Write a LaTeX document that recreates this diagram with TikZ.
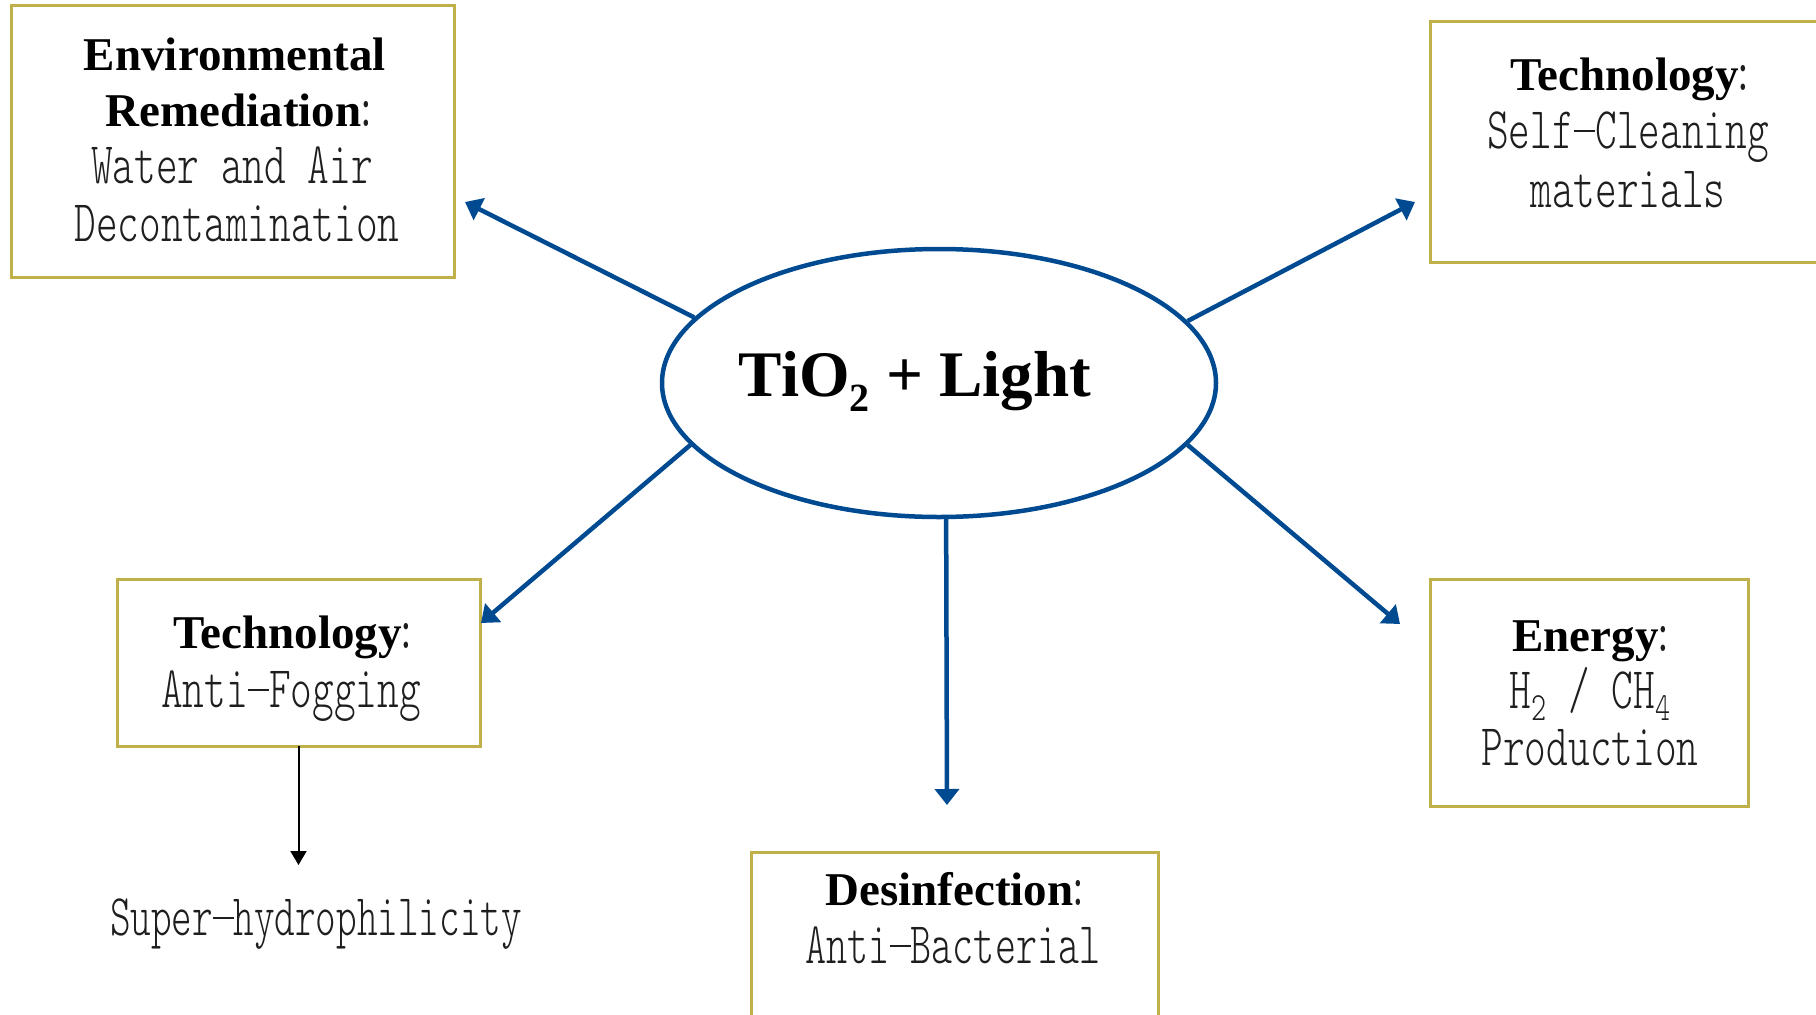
\documentclass[tikz,border=0pt]{standalone}
\usepackage{fontspec}
\setmainfont{Liberation Serif}
\newfontfamily\lmlight{lmmonolt10-regular.otf}
\usepackage{graphicx}
\usetikzlibrary{shapes.geometric,arrows.meta}
\definecolor{gold}{RGB}{191,176,74}
\definecolor{tblue}{RGB}{0,74,145}
\definecolor{mgray}{RGB}{30,30,30}
\newcommand\mt[2][0.70]{\scalebox{#1}[1]{\color{mgray}\lmlight\fontsize{59}{59}\selectfont #2}}
\newcommand\bt[1]{{\bfseries\fontsize{47}{47}\selectfont #1}}
\newcommand\msub[1]{\raisebox{-12pt}{\scalebox{0.72}[1]{\color{mgray}\lmlight\fontsize{40}{40}\selectfont #1}}}
\newcommand\dsh{\rule[0.27em]{0.52em}{0.035em}}
\newcommand\cln{\hspace{2pt}\mt{\makebox[0.12em]{:}}}
\begin{document}
\begin{tikzpicture}[x=1pt,y=-1pt,
  box/.style={draw=gold,line width=3pt,inner sep=0pt,outer sep=0pt},
  txt/.style={inner sep=0pt,outer sep=0pt,anchor=base},
  conn/.style={draw=tblue,line width=4.5pt,-{Triangle[length=16pt,width=24pt]}},
  thinarrow/.style={draw=black,line width=2pt,-{Triangle[length=14pt,width=16pt]}}]
\useasboundingbox (0,0) rectangle (1816,1015);
% boxes
\node[box,minimum width=443pt,minimum height=272pt] (b1) at (232.5,141) {};
\node[box,minimum width=396pt,minimum height=241pt] (b2) at (1628,141.5) {};
\node[box,minimum width=363pt,minimum height=167pt] (b3) at (298.5,662.5) {};
\node[box,minimum width=318pt,minimum height=227pt] (b4) at (1589,692.5) {};
\node[box,minimum width=407pt,minimum height=178pt] (b5) at (954.5,941) {};
% texts box 1
\node[txt] (b1l1) at (235,70) {\bt{Environmental}};
\node[txt] (b1l2) at (237,126) {\bt{Remediation}\cln};
\node[txt] (b1l3) at (232,183) {\mt{Water and Air}};
\node[txt] (b1l4) at (237,241) {\mt{Decontamination}};
% box 2
\node[txt] (b2l1) at (1628,90) {\bt{Technology}\cln};
\node[txt] (b2l2) at (1628,148) {\mt{Self\dsh Cleaning}};
\node[txt] (b2l3) at (1628,207) {\mt{materials}};
% box 3
\node[txt] (b3l1) at (291,648) {\bt{Technology}\cln};
\node[txt] (b3l2) at (291,707) {\mt{Anti\dsh Fogging}};
% box 4
\node[txt] (b4l1) at (1589,651) {\bt{Energy}\cln};
\node[txt] (b4l2) at (1590,708) {\mt{H}\msub{2}\mt{\ /\ CH}\msub{4}};
\node[txt] (b4l3) at (1590,765) {\mt{Production}};
% box 5
\node[txt] (b5l1) at (953,905) {\bt{Desinfection}\cln};
\node[txt] (b5l2) at (953,963) {\mt[0.68]{Anti\dsh Bacterial}};
% super-hydrophilicity
\node[txt] (sh) at (316,935) {\mt[0.665]{Super\dsh hydrophilicity}};
% ellipse
\node[ellipse,draw=tblue,line width=4.5pt,minimum width=554pt,minimum height=268pt,inner sep=0pt] (e) at (939,383) {};
\node[txt] (et) at (915,396) {\bfseries\fontsize{65}{65}\selectfont TiO\raisebox{-15pt}{\fontsize{40}{40}\selectfont 2} + Light};
% arrow tips
\coordinate (tUL) at (465,202);
\coordinate (tUR) at (1415,202);
\coordinate (tLL) at (481,623);
\coordinate (tLR) at (1400,624);
\coordinate (tD) at (947,805);
\coordinate (tS) at (298.5,865);
\draw[conn] (e.165.8) -- (tUL);
\draw[conn] (e.14) -- (tUR);
\draw[conn] (e.194) -- (tLL);
\draw[conn] (e.346) -- (tLR);
\draw[conn] (e.273.4) -- (tD);
\draw[thinarrow] (b3.south) -- (tS);
\end{tikzpicture}
\end{document}
